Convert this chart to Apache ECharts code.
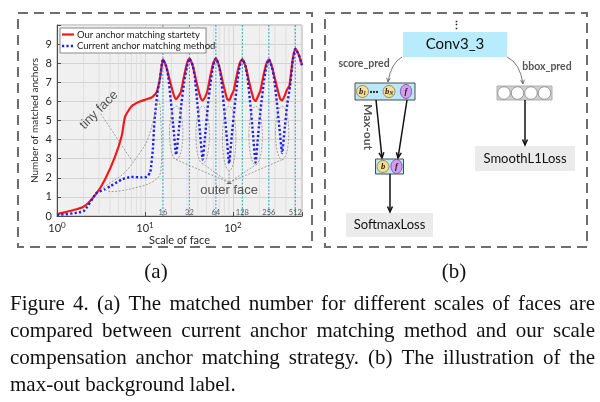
<!DOCTYPE html>
<html><head><meta charset="utf-8">
<script src="https://cdn.jsdelivr.net/npm/echarts@6.0.0/dist/echarts.min.js"></script>
<style>html,body{margin:0;padding:0;background:#fff}#c{width:600px;height:402px}</style>
</head><body><div id="c"></div>
<script>
// ---------------- data ----------------
const seriesNames = ['Our anchor matching startety', 'Current anchor matching method'];
const redX = [1, 2, 2.83, 3.5, 4.56, 5.45, 5.95, 7.06, 8.77, 11.9, 13.6, 14.8,
  16, 17.4, 19.4, 21.4, 22.6, 24.3, 25.6, 27.5, 29.9,
  32, 34.8, 38.8, 42.8, 45.3, 48.5, 51.3, 54.9, 59.7,
  64, 69.6, 77.7, 85.6, 90.5, 97.0, 102.5, 109.9, 119.4,
  128, 139, 155, 171, 181, 194, 205, 220, 239,
  256, 278, 311, 343, 362, 388, 410, 440, 478,
  512, 560, 610];
const redY = [0.1, 0.48, 1.2, 1.9, 3.1, 4.2, 5.2, 5.75, 6.0, 6.2, 6.5, 7.2,
  8.2, 7.85, 7.0, 6.3, 6.12, 6.3, 6.5, 7.2, 7.95,
  8.25, 7.9, 6.95, 6.2, 6.05, 6.25, 6.55, 7.25, 8.0,
  8.25, 7.85, 6.9, 6.15, 6.05, 6.35, 6.6, 7.3, 8.0,
  8.2, 7.85, 6.9, 6.15, 6.02, 6.3, 6.55, 7.25, 7.95,
  8.2, 7.8, 6.9, 6.15, 6.05, 6.3, 6.6, 6.85, 8.2,
  8.75, 8.45, 7.9];
const blueX = [1, 2, 2.8, 3.5, 4.0, 5.4, 7, 9, 10.5, 11.5, 12.3, 12.8, 13.8, 14.8,
  16, 17.4, 18.4, 19.7, 21.1, 22.6, 24.3, 26.0, 27.9, 29.9,
  32, 34.8, 36.8, 39.4, 42.2, 45.3, 48.5, 52.0, 55.7, 59.7,
  64, 69.6, 73.5, 78.8, 84.5, 90.5, 97.0, 104, 111.4, 119.4,
  128, 139, 147, 158, 169, 181, 194, 208, 223, 239,
  256, 278, 294, 315, 338, 362, 388, 416, 446, 478,
  512, 560, 610];
const blueY = [0.05, 0.25, 1.2, 1.4, 1.55, 1.9, 2.05, 2.02, 2.05, 2.3, 3.5, 4.9, 6.4, 7.2,
  8.2, 7.85, 7.3, 6.0, 4.6, 3.2, 4.5, 5.9, 7.0, 7.8,
  8.25, 7.9, 7.3, 5.9, 4.4, 2.95, 4.3, 5.8, 7.0, 7.9,
  8.25, 7.85, 7.2, 5.8, 4.3, 2.75, 4.2, 5.6, 6.9, 7.85,
  8.2, 7.85, 7.2, 5.8, 4.3, 2.8, 4.3, 5.7, 6.9, 7.8,
  8.2, 7.8, 7.2, 6.0, 4.6, 3.3, 4.6, 5.9, 6.8, 8.1,
  8.75, 8.45, 7.9];
const markerScales = [16, 32, 64, 128, 256, 512];
const markerLabels = ['16', '32', '64', '128', '256', '512'];
const minorX = [2,3,4,5,6,7,8,9,20,30,40,50,60,70,80,90,200,300,400,500,600];
const xMin = 1, xMax = 610, yMin = 0, yMax = 10;
const xName = 'Scale of face';
const yName = 'Number of matched anchors';

// annotations (data coordinates)
const tinyLoop = [[3.4,1.46],[3.73,1.63],[5.8,2.25],[8.2,3.12],[10.7,4.0],[13.2,5.5],[14.2,6.1],[15,5.5],[15.1,2.3],[12.3,1.8],[7.5,1.46],[4.07,1.28]];
const tinyLabelAt = [3.0, 5.55];
const tinyLineFrom = [3.15, 5.35], tinyLineTo = [7.2, 2.86];
const outerTroughs = [22.6, 45.3, 90.5, 181, 362];
const outerLeft = [19, 38, 76, 152, 304];
const outerRight = [27, 54, 108, 216, 432];
const outerTop = [5.75, 5.75, 5.75, 5.75, 5.75];
const outerBottom = [2.95, 2.74, 2.38, 2.68, 2.95];
const outerAnchor = [90.5, 1.75];
const outerLabelAt = [90.5, 1.35];

const captionLines = [
  'Figure 4. (a) The matched number for different scales of faces are',
  'compared between current anchor matching method and our scale',
  'compensation anchor matching strategy. (b) The illustration of the',
  'max-out background label.'
];

// vertical guide lines built from the values above, broken with '-' gaps
function vLines(vals) {
  const out = [];
  vals.forEach(v => { out.push([v, yMin]); out.push([v, yMax]); out.push([v, '-']); });
  return out;
}

// ---------------- chart ----------------
const chart = echarts.init(document.getElementById('c'), null, {renderer: 'canvas'});
const ink = '#262626';
const option = {
  animation: false,
  backgroundColor: '#ffffff',
  textStyle: {fontFamily: 'Lato'},
  grid: {left: 57, top: 25, right: 298, bottom: 186, show: true, backgroundColor: '#f0f0f0', borderColor: '#a6a6a6', borderWidth: 1},
  legend: {show: false},
  xAxis: {
    type: 'log', logBase: 10, min: xMin, max: xMax,
    name: xName, nameLocation: 'middle', nameGap: 19,
    nameTextStyle: {fontSize: 11, color: ink},
    axisLine: {show: true, onZero: false, lineStyle: {color: '#4d4d4d'}},
    axisTick: {show: true, inside: true, length: 4, lineStyle: {color: '#4d4d4d'}},
    axisLabel: {
      margin: 5,
      formatter: function (v) {
        const l = Math.log10(v), e = Math.round(l);
        if (Math.abs(l - e) > 1e-6) return '';
        return '{b|10}{s|' + e + '}';
      },
      rich: {b: {fontSize: 11, color: ink, fontFamily: 'Lato'}, s: {fontSize: 8, color: ink, fontFamily: 'Lato', padding: [0, 0, 7, 0]}}
    },
    splitLine: {show: true, lineStyle: {color: '#d4d4d4', width: 1}}
  },
  yAxis: {
    type: 'value', min: yMin, max: yMax, interval: 1,
    name: yName, nameLocation: 'middle', nameGap: 17,
    nameTextStyle: {fontSize: 10, color: ink},
    axisLine: {show: true, lineStyle: {color: '#4d4d4d'}},
    axisTick: {show: true, inside: true, length: 4, lineStyle: {color: '#4d4d4d'}},
    axisLabel: {fontSize: 11, color: ink, margin: 5, formatter: v => (v > 9 ? '' : String(v))},
    splitLine: {show: true, lineStyle: {color: '#d4d4d4', width: 1}}
  },
  series: [
    {
      name: 'minor', type: 'line', symbol: 'none', silent: true, z: 1, connectNulls: false,
      data: vLines(minorX), lineStyle: {color: '#dadada', width: 0.8}
    },
    {
      name: 'guides', type: 'line', symbol: 'none', silent: true, z: 2, connectNulls: false,
      data: vLines(markerScales), lineStyle: {color: '#3aa6c2', width: 1.1, type: [2, 1.5]}
    },
    {
      name: 'markers', type: 'scatter', symbolSize: 0, silent: true, z: 4,
      data: markerScales.map((v, i) => ({value: [v, 0.18], name: markerLabels[i]})),
      label: {show: true, position: 'inside', formatter: p => p.name, fontSize: 7.5, color: '#333', fontFamily: 'Lato'}
    },
    {
      name: seriesNames[0], type: 'line', symbol: 'none', smooth: 0.2, z: 5,
      data: redX.map((x, i) => [x, redY[i]]),
      lineStyle: {color: '#f01a1a', width: 2.2}
    },
    {
      name: seriesNames[1], type: 'line', symbol: 'none', smooth: 0.15, z: 6,
      data: blueX.map((x, i) => [x, blueY[i]]),
      lineStyle: {color: '#1f1fe6', width: 2.4, type: [2.2, 2.2], cap: 'butt'}
    }
  ]
};
chart.setOption(option);

// ---------------- graphics ----------------
const P = d => chart.convertToPixel({gridIndex: 0}, d);
const g = [];
function ln(x1, y1, x2, y2, stroke, lw, dash) {
  return {type: 'line', silent: true, z: 10, shape: {x1, y1, x2, y2}, style: {stroke, lineWidth: lw, lineDash: dash || null}};
}
function head(x1, y1, x2, y2, stroke, lw, L) {
  const a = Math.atan2(y2 - y1, x2 - x1), sp = 0.42;
  return {type: 'polyline', silent: true, z: 10, shape: {points: [[x2 - L * Math.cos(a - sp), y2 - L * Math.sin(a - sp)], [x2, y2], [x2 - L * Math.cos(a + sp), y2 - L * Math.sin(a + sp)]]}, style: {stroke, lineWidth: lw, fill: null}};
}
function arrow(x1, y1, x2, y2, stroke, lw, L) { g.push(ln(x1, y1, x2, y2, stroke, lw)); g.push(head(x1, y1, x2, y2, stroke, lw, L)); }
function txt(text, x, y, o) {
  o = o || {};
  const el = {type: 'text', silent: true, z: o.z || 11, x, y, rotation: o.rotation || 0,
    style: {text, x: 0, y: 0, fill: o.fill || '#111', fontSize: o.size || 12, fontFamily: o.family || 'Lato',
      fontWeight: o.weight || 'normal', fontStyle: o.style || 'normal', align: o.align || 'center', verticalAlign: o.valign || 'middle'}};
  if (o.rich) el.style.rich = o.rich;
  return el;
}

// panel frames
g.push({type: 'rect', silent: true, z: 1, shape: {x: 18, y: 13, width: 294, height: 234}, style: {fill: null, stroke: '#6e6e6e', lineWidth: 2, lineDash: [10, 6]}});
g.push({type: 'rect', silent: true, z: 1, shape: {x: 325, y: 13, width: 262, height: 234}, style: {fill: null, stroke: '#6e6e6e', lineWidth: 2, lineDash: [10, 6]}});

// legend (drawn box)
g.push({type: 'rect', silent: true, z: 12, shape: {x: 60, y: 28, width: 146, height: 25}, style: {fill: '#ffffff', stroke: '#8a8a8a', lineWidth: 1}});
g.push({type: 'line', silent: true, z: 13, shape: {x1: 62, y1: 34.5, x2: 74, y2: 34.5}, style: {stroke: '#f01a1a', lineWidth: 2.2}});
g.push({type: 'line', silent: true, z: 13, shape: {x1: 62, y1: 46, x2: 74, y2: 46}, style: {stroke: '#1f1fe6', lineWidth: 2.4, lineDash: [2.2, 2.2]}});
g.push(txt(seriesNames[0], 77, 34.5, {size: 9.5, fill: '#1a1a1a', align: 'left', z: 14}));
g.push(txt(seriesNames[1], 77, 46, {size: 9.5, fill: '#1a1a1a', align: 'left', z: 14}));

// annotations on plot
const annoC = '#8c8c8c';
g.push({type: 'polygon', silent: true, z: 7, shape: {points: tinyLoop.map(P), smooth: 0.35}, style: {fill: null, stroke: annoC, lineWidth: 0.8, lineDash: [2, 1.5]}});
{ const a = P(tinyLineFrom), b = P(tinyLineTo); g.push(ln(a[0], a[1], b[0], b[1], annoC, 0.8, [2, 1.5])); }
{ const t = P(tinyLabelAt); g.push(txt('tiny face', t[0], t[1], {rotation: Math.PI / 4, size: 13, fill: '#555', family: 'Liberation Sans'})); }
const oa = P(outerAnchor);
outerTroughs.forEach((x, i) => {
  const l = P([outerLeft[i], outerTop[i]]), r = P([outerRight[i], outerBottom[i]]);
  const cx = (l[0] + r[0]) / 2, cy = (l[1] + r[1]) / 2;
  g.push({type: 'ellipse', silent: true, z: 7, shape: {cx, cy, rx: (r[0] - l[0]) / 2, ry: (r[1] - l[1]) / 2}, style: {fill: null, stroke: annoC, lineWidth: 0.8, lineDash: [2, 1.5]}});
  g.push(ln(oa[0], oa[1], cx, r[1], annoC, 0.8, [2, 1.5]));
});
g.push({type: 'polygon', silent: true, z: 8, shape: {points: [[oa[0] - 3, oa[1] + 1.5], [oa[0], oa[1] - 1], [oa[0] + 3, oa[1] + 1.5]]}, style: {fill: '#666'}});
{ const t = P(outerLabelAt); g.push(txt('outer face', t[0], t[1], {size: 13, fill: '#555', family: 'Liberation Sans'})); }

// ---------------- diagram (b) ----------------
const boxBlue = '#b9e8f8';
g.push(txt('\u22EE', 456, 25, {size: 11, fill: '#222', weight: 'bold'}));
g.push({type: 'rect', silent: true, z: 5, shape: {x: 403, y: 32, width: 104, height: 25}, style: {fill: '#b8ebfb'}});
g.push(txt('Conv3_3', 455, 44.5, {size: 15, fill: '#111'}));
g.push(txt('score_pred', 364, 63.5, {size: 10.5, fill: '#555', weight: 'bold'}));
g.push(txt('bbox_pred', 547, 67, {size: 10.5, fill: '#555', weight: 'bold'}));
g.push({type: 'bezierCurve', silent: true, z: 10, shape: {x1: 402, y1: 57, cpx1: 391, cpy1: 63, x2: 388, y2: 82}, style: {stroke: '#6a6a6a', lineWidth: 0.9, fill: null}});
g.push(head(389, 74, 388, 82, '#6a6a6a', 0.9, 4.5));
g.push({type: 'bezierCurve', silent: true, z: 10, shape: {x1: 507, y1: 57, cpx1: 520, cpy1: 63, x2: 523, y2: 84}, style: {stroke: '#6a6a6a', lineWidth: 0.9, fill: null}});
g.push(head(522, 76, 523, 84, '#6a6a6a', 0.9, 4.5));
g.push({type: 'rect', silent: true, z: 5, shape: {x: 355, y: 83, width: 60, height: 17}, style: {fill: boxBlue, stroke: '#4d4d4d', lineWidth: 1}});
const yel = '#f8df8e', yelS = '#8b7a4a', pur = '#d49bf0', purS = '#6f4f88';
const circLabel = {b: {fontSize: 8.5, fontFamily: 'Liberation Serif', fontStyle: 'italic', fontWeight: 'bold', fill: '#222'}, s: {fontSize: 5.5, fontFamily: 'Liberation Serif', fontStyle: 'italic', fontWeight: 'bold', fill: '#222', padding: [4, 0, 0, 0]}};
function bCirc(cx, cy, sub) {
  g.push({type: 'circle', silent: true, z: 6, shape: {cx, cy, r: 6}, style: {fill: yel, stroke: yelS, lineWidth: 0.8}});
  g.push(txt(sub ? '{b|b}{s|' + sub + '}' : '{b|b}', cx, cy, {rich: circLabel}));
}
function fCirc(cx, cy) {
  g.push({type: 'ellipse', silent: true, z: 6, shape: {cx, cy, rx: 5.6, ry: 7}, style: {fill: pur, stroke: purS, lineWidth: 0.8}});
  g.push(txt('{b|f}', cx, cy, {rich: circLabel}));
}
bCirc(362.5, 91.5, '1');
g.push(txt('\u00B7\u00B7\u00B7', 374, 91, {size: 11, fill: '#111', weight: 'bold'}));
bCirc(389, 91.5, 'N');
fCirc(406, 91.5);
g.push({type: 'rect', silent: true, z: 5, shape: {x: 497, y: 86, width: 55, height: 14}, style: {fill: '#cfcfcf', stroke: '#b0b0b0', lineWidth: 1}});
[504, 517.5, 531, 544.5].forEach(cx => g.push({type: 'circle', silent: true, z: 6, shape: {cx, cy: 93, r: 6.3}, style: {fill: '#ffffff', stroke: '#8f8f8f', lineWidth: 0.9}}));
g.push(txt('Max-out', 368, 127, {size: 12, fill: '#555', weight: 'bold', rotation: -Math.PI / 2}));
arrow(376, 100, 382, 158, '#111', 1.5, 6);
arrow(407, 100, 398, 158, '#111', 1.5, 6);
g.push({type: 'rect', silent: true, z: 5, shape: {x: 375.5, y: 159, width: 28, height: 15}, style: {fill: boxBlue, stroke: '#4d4d4d', lineWidth: 1}});
bCirc(383, 166.5, null);
fCirc(396.5, 166.5);
arrow(390, 174, 390, 212, '#111', 1.5, 6);
g.push({type: 'rect', silent: true, z: 5, shape: {x: 346, y: 213, width: 87, height: 24}, style: {fill: '#ebebeb'}});
g.push(txt('SoftmaxLoss', 389.5, 225, {size: 13, fill: '#111'}));
arrow(525, 100, 525, 145, '#111', 1.5, 6);
g.push({type: 'rect', silent: true, z: 5, shape: {x: 475, y: 146, width: 100, height: 25}, style: {fill: '#ebebeb'}});
g.push(txt('SmoothL1Loss', 525, 158.5, {size: 13, fill: '#111'}));

// ---------------- captions ----------------
const capFont = 'Liberation Serif', capSize = 21;
g.push(txt('(a)', 156, 272, {size: capSize, family: capFont, fill: '#111'}));
g.push(txt('(b)', 454, 272, {size: capSize, family: capFont, fill: '#111'}));
const ctx = document.createElement('canvas').getContext('2d');
ctx.font = capSize + 'px "' + capFont + '"';
const capLeft = 10, capRight = 595, capY = [304, 331, 358, 385];
captionLines.forEach((line, i) => {
  const words = line.split(' ');
  const ws = words.map(w => ctx.measureText(w).width);
  const total = ws.reduce((a, b) => a + b, 0);
  const justify = i < captionLines.length - 1;
  const gap = justify ? (capRight - capLeft - total) / (words.length - 1) : ctx.measureText(' ').width;
  let x = capLeft;
  words.forEach((w, j) => {
    g.push(txt(w, x, capY[i], {size: capSize, family: capFont, fill: '#111', align: 'left'}));
    x += ws[j] + gap;
  });
});

chart.setOption({graphic: {elements: g}});
</script></body></html>
